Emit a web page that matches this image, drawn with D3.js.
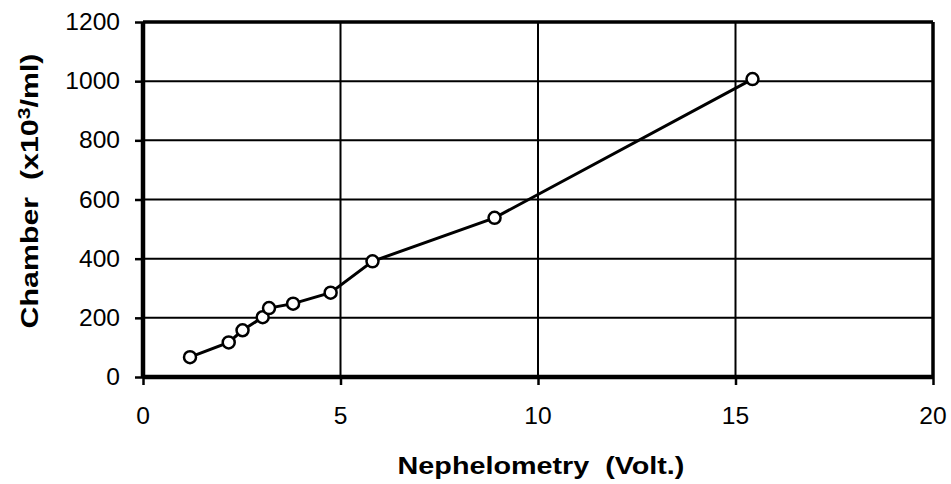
<!DOCTYPE html>
<html>
<head>
<meta charset="utf-8">
<script src="https://cdn.jsdelivr.net/npm/d3@7"></script>
<style>
  html, body { margin: 0; padding: 0; background: #fff; }
  svg { display: block; }
  text { font-family: "Liberation Sans", Arial, Helvetica, sans-serif; fill: #000; white-space: pre; }
</style>
</head>
<body>
<svg id="chart" width="951" height="484"></svg>
<script>
// Data
const nephelometry = [1.19, 2.17, 2.52, 3.03, 3.19, 3.80, 4.75, 5.81, 8.90, 15.43];
const chamber      = [67, 117, 158, 202, 233, 248, 285, 391, 538, 1007];
const xTicks = [0, 5, 10, 15, 20];
const yTicks = [0, 200, 400, 600, 800, 1000, 1200];
const xTitle = "Nephelometry  (Volt.)";
const yTitleMain = "Chamber  (x10";
const yTitleSup = "3";
const yTitleEnd = "/ml)";

const svg = d3.select("#chart");
const pLeft = 143, pRight = 933, pTop = 22, pBottom = 377;

const x = d3.scaleLinear().domain([0, 20]).range([pLeft, pRight]);
const y = d3.scaleLinear().domain([0, 1200]).range([pBottom, pTop]);

// Horizontal gridlines
svg.append("g").selectAll("line").data(yTicks.filter(d => d > 0 && d < 1200)).join("line")
  .attr("x1", pLeft).attr("x2", pRight)
  .attr("y1", d => y(d)).attr("y2", d => y(d))
  .attr("stroke", "#000").attr("stroke-width", 2);

// Vertical gridlines
svg.append("g").selectAll("line").data(xTicks.filter(d => d > 0 && d < 20)).join("line")
  .attr("x1", d => x(d)).attr("x2", d => x(d))
  .attr("y1", pTop).attr("y2", pBottom)
  .attr("stroke", "#000").attr("stroke-width", 2);

// Frame: top & right
svg.append("line").attr("x1", pLeft).attr("x2", pRight).attr("y1", pTop).attr("y2", pTop)
  .attr("stroke", "#000").attr("stroke-width", 3.5);
svg.append("line").attr("x1", pRight).attr("x2", pRight).attr("y1", pTop).attr("y2", pBottom)
  .attr("stroke", "#000").attr("stroke-width", 3.5);

// Axes
const xAxis = d3.axisBottom(x).tickValues(xTicks).tickSize(8).tickFormat("");
const yAxis = d3.axisLeft(y).tickValues(yTicks).tickSize(8).tickFormat("");
const gx = svg.append("g").attr("transform", `translate(0,${pBottom})`).call(xAxis);
const gy = svg.append("g").attr("transform", `translate(${pLeft},0)`).call(yAxis);
gx.select(".domain").attr("stroke", "#000").attr("stroke-width", 4.5).attr("d", `M${pLeft},0H${pRight}`);
gy.select(".domain").attr("stroke", "#000").attr("stroke-width", 4.5).attr("d", `M0,${pTop}V${pBottom}`);
gx.selectAll(".tick line").attr("stroke", "#000").attr("stroke-width", 2.5);
gy.selectAll(".tick line").attr("stroke", "#000").attr("stroke-width", 2.5);

// Tick labels
svg.append("g").selectAll("text").data(xTicks).join("text")
  .attr("transform", d => `translate(${x(d)},424) scale(1.07,1)`)
  .attr("text-anchor", "middle")
  .style("font-size", "23px")
  .text(d => d);
svg.append("g").selectAll("text").data(yTicks).join("text")
  .attr("transform", d => `translate(120,${y(d) + 8}) scale(1.07,1)`)
  .attr("text-anchor", "end")
  .style("font-size", "23px")
  .text(d => d);

// Axis titles
svg.append("text")
  .attr("transform", `translate(541,474) scale(1.25,1)`)
  .attr("text-anchor", "middle")
  .style("font-size", "23px").style("font-weight", "bold")
  .text(xTitle);

const yt = svg.append("text")
  .attr("transform", `translate(38,191) rotate(-90) scale(1.32,1)`)
  .attr("text-anchor", "middle")
  .style("font-size", "23px").style("font-weight", "bold");
yt.append("tspan").text(yTitleMain);
yt.append("tspan").attr("dy", -8).style("font-size", "16px").text(yTitleSup);
yt.append("tspan").attr("dy", 8).text(yTitleEnd);

// Data line
const pts = nephelometry.map((v, i) => [v, chamber[i]]);
svg.append("path").datum(pts)
  .attr("fill", "none").attr("stroke", "#000").attr("stroke-width", 3)
  .attr("d", d3.line().x(d => x(d[0])).y(d => y(d[1])));

// Markers
svg.append("g").selectAll("circle").data(pts).join("circle")
  .attr("cx", d => x(d[0])).attr("cy", d => y(d[1])).attr("r", 6)
  .attr("fill", "#fff").attr("stroke", "#000").attr("stroke-width", 2.5);
</script>
</body>
</html>
